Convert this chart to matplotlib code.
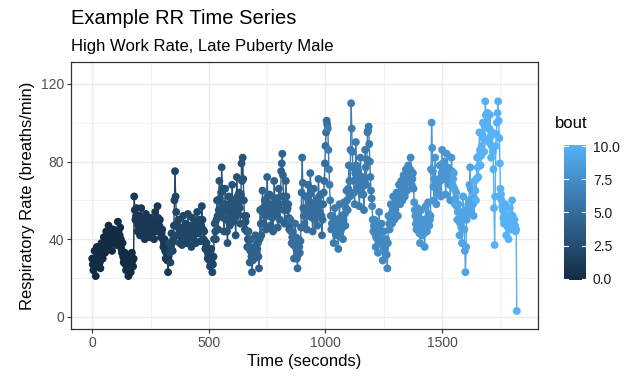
import numpy as np
import matplotlib
matplotlib.use("Agg")
import matplotlib.pyplot as plt
from matplotlib.collections import LineCollection
from matplotlib.colors import LinearSegmentedColormap, Normalize

plt.rcParams['font.family'] = ['Liberation Sans', 'DejaVu Sans']

# respiratory rate, readings at 0, 5, 10 ... s
rr = [
    30, 24, 34, 21, 36, 27, 33, 25, 38, 30, 41, 33, 44, 36, 47, 37, 42, 34, 45, 38,
    44, 37, 49, 40, 46, 35, 38, 28, 33, 24, 31, 21, 29, 23, 33, 26, 62, 50, 56, 44,
    52, 42, 56, 45, 50, 40, 53, 43, 48, 41, 51, 42, 49, 40, 54, 44, 57, 46, 50, 41,
    45, 36, 40, 30, 35, 23, 38, 28, 43, 34, 47, 75, 54, 42, 50, 38, 46, 37, 52, 40,
    48, 38, 53, 41, 47, 36, 51, 40, 49, 38, 54, 43, 50, 39, 57, 45, 44, 35, 38, 30,
    33, 26, 35, 23, 31, 48, 40, 60, 45, 70, 52, 77, 58, 44, 66, 50, 38, 62, 47, 55,
    68, 49, 60, 42, 72, 53, 64, 48, 79, 82, 60, 45, 52, 36, 44, 28, 40, 23, 35, 30,
    42, 33, 38, 25, 55, 42, 65, 48, 60, 45, 72, 52, 63, 47, 58, 44, 70, 53, 61, 46,
    66, 50, 75, 84, 62, 48, 70, 55, 58, 45, 50, 38, 44, 30, 48, 35, 25, 40, 33, 46,
    82, 56, 48, 62, 45, 68, 52, 74, 58, 44, 66, 50, 60, 47, 71, 54, 63, 42, 58, 70,
    88, 101, 97, 76, 60, 45, 52, 38, 56, 42, 50, 35, 58, 44, 52, 40, 59, 47, 65, 55,
    78, 62, 110, 85, 70, 58, 90, 66, 75, 57, 82, 63, 72, 55, 86, 68, 95, 98, 80, 65,
    57, 44, 50, 36, 47, 33, 54, 40, 48, 29, 44, 35, 40, 25, 52, 45, 58, 48, 62, 50,
    55, 64, 52, 68, 58, 70, 60, 73, 62, 76, 65, 78, 70, 82, 68, 74, 59, 52, 45, 56,
    48, 38, 55, 42, 50, 36, 57, 44, 59, 47, 52, 100, 75, 60, 82, 58, 70, 65, 78, 62,
    86, 72, 80, 63, 84, 70, 76, 60, 82, 68, 74, 58, 64, 50, 58, 42, 54, 38, 62, 45,
    23, 50, 56, 60, 77, 55, 65, 52, 70, 60, 82, 72, 95, 78, 88, 100, 85, 111, 98, 105,
    90, 104, 82, 95, 76, 37, 88, 100, 111, 92, 66, 60, 55, 48, 58, 42, 52, 40, 56, 45,
    60, 45, 50, 44, 3,
]

# readings in between, at 2.5, 7.5, 12.5 ... s
rr_mid = [
    27, 30, 26, 29, 31, 30, 28, 33, 34, 36, 37, 39, 40, 41, 40, 38, 39, 41, 42, 40,
    41, 43, 44, 42, 40, 33, 31, 29, 27, 28, 26, 25, 27, 26, 29, 30, 55, 52, 49, 47,
    47, 48, 50, 47, 44, 45, 47, 46, 44, 45, 46, 45, 44, 46, 48, 49, 51, 47, 45, 43,
    40, 38, 34, 33, 29, 31, 33, 36, 38, 40, 60, 62, 48, 46, 43, 42, 41, 44, 45, 44,
    43, 45, 47, 44, 41, 43, 45, 44, 43, 46, 48, 46, 44, 47, 50, 40, 39, 36, 34, 32,
    29, 30, 28, 27, 40, 44, 50, 52, 55, 61, 64, 66, 51, 55, 58, 44, 50, 54, 51, 60,
    58, 54, 51, 57, 62, 58, 56, 63, 70, 71, 52, 49, 44, 40, 36, 34, 31, 29, 32, 36,
    37, 35, 31, 40, 48, 55, 56, 54, 52, 58, 62, 57, 55, 52, 51, 57, 61, 57, 53, 56,
    58, 62, 79, 73, 55, 59, 62, 56, 51, 47, 44, 41, 37, 39, 41, 30, 32, 36, 39, 64,
    69, 52, 55, 53, 56, 60, 63, 66, 51, 55, 58, 55, 53, 59, 62, 58, 52, 50, 64, 79,
    95, 99, 86, 68, 52, 48, 45, 47, 49, 46, 42, 47, 51, 48, 46, 50, 53, 56, 60, 66,
    70, 86, 97, 77, 64, 74, 78, 70, 66, 70, 72, 67, 63, 70, 77, 81, 96, 89, 72, 61,
    50, 47, 43, 41, 40, 43, 47, 44, 38, 36, 39, 37, 32, 38, 48, 51, 53, 55, 56, 52,
    60, 58, 60, 63, 64, 65, 66, 67, 69, 70, 71, 74, 76, 75, 71, 66, 55, 48, 50, 52,
    43, 46, 48, 46, 43, 46, 50, 51, 53, 50, 76, 87, 67, 71, 70, 64, 67, 71, 70, 74,
    79, 76, 71, 73, 77, 73, 68, 71, 75, 71, 66, 61, 57, 54, 50, 48, 46, 50, 53, 34,
    36, 53, 58, 68, 66, 60, 58, 61, 65, 71, 77, 83, 86, 83, 94, 92, 98, 104, 101, 97,
    97, 93, 88, 85, 56, 62, 94, 105, 101, 79, 63, 57, 51, 53, 50, 47, 46, 48, 50, 52,
    52, 47, 47, 45,
]

# start time (s) of each bout, bout numbers 0..10
bout_start = [0, 180, 330, 525, 670, 850, 1010, 1200, 1380, 1545, 1640]
bout_id = [0, 1, 2, 3, 4, 5, 6, 7, 8, 9, 10]

# merge the two sets of readings into one time-ordered series
t_a = np.arange(len(rr)) * 5.0
t_b = np.arange(len(rr_mid)) * 5.0 + 2.5
time = np.concatenate([t_a, t_b])
resp = np.concatenate([rr, rr_mid]).astype(float)
order = np.argsort(time)
time, resp = time[order], resp[order]
bout = np.array(bout_id)[np.searchsorted(bout_start, time, side='right') - 1]

# ggplot default continuous colour scale
cmap = LinearSegmentedColormap.from_list('gg', ['#132B43', '#56B1F7'])
norm = Normalize(0, 10)

fig = plt.figure(figsize=(6.42, 3.78), dpi=100)
ax = fig.add_axes([71/642, 1 - 329/378, (538 - 71)/642, (329 - 62)/378])

# lines coloured by the bout of the starting point
pts = np.column_stack([time, resp])
segs = np.stack([pts[:-1], pts[1:]], axis=1)
lc = LineCollection(segs, colors=cmap(norm(bout[:-1])), linewidths=1.0, zorder=2)
ax.add_collection(lc)
ax.scatter(time, resp, c=bout, cmap=cmap, norm=norm, s=32, linewidths=0, zorder=3)

ax.set_xlim(-91, 1911)
ax.set_ylim(-6.25, 131.25)
ax.set_xticks([0, 500, 1000, 1500])
ax.set_yticks([0, 40, 80, 120])
ax.set_xticks([250, 750, 1250, 1750], minor=True)
ax.set_yticks([20, 60, 100], minor=True)
ax.grid(which='major', color='#EBEBEB', linewidth=1.0, zorder=0)
ax.grid(which='minor', color='#EBEBEB', linewidth=0.5, zorder=0)
ax.set_axisbelow(True)
ax.tick_params(which='major', length=3, color='#333333', labelsize=10,
               labelcolor='#4D4D4D', pad=2)
ax.tick_params(which='minor', length=0)
for s in ax.spines.values():
    s.set_color('#333333')
    s.set_linewidth(0.9)

ax.set_xlabel('Time (seconds)', fontsize=12, labelpad=3)
ax.set_ylabel('Respiratory Rate (breaths/min)', fontsize=12, labelpad=4)

fig.text(71/642, 1 - 18/378, 'Example RR Time Series', fontsize=14.5,
         ha='left', va='center')
fig.text(71/642, 1 - 46/378, 'High Work Rate, Late Puberty Male', fontsize=12,
         ha='left', va='center')

# colour bar legend
cax = fig.add_axes([564/642, 1 - 280/378, 22/642, (280 - 145)/378])
grad = np.linspace(0, 10, 256).reshape(-1, 1)
cax.imshow(grad, aspect='auto', origin='lower', cmap=cmap, norm=norm,
           extent=[0, 1, -0.1, 10.1])
cax.set_xlim(0, 1)
cax.set_ylim(-0.1, 10.1)
for v in [0, 2.5, 5, 7.5, 10]:
    cax.plot([0, 0.2], [v, v], color='white', lw=0.8)
    cax.plot([0.8, 1], [v, v], color='white', lw=0.8)
cax.set_xticks([])
cax.yaxis.tick_right()
cax.set_yticks([0, 2.5, 5, 7.5, 10])
cax.set_yticklabels(['0.0', '2.5', '5.0', '7.5', '10.0'])
cax.tick_params(length=0, labelsize=10, labelcolor='#1A1A1A', pad=5)
for s in cax.spines.values():
    s.set_visible(False)
fig.text(555/642, 1 - 124/378, 'bout', fontsize=12, ha='left', va='center')

fig.savefig('out.png', dpi=100)
